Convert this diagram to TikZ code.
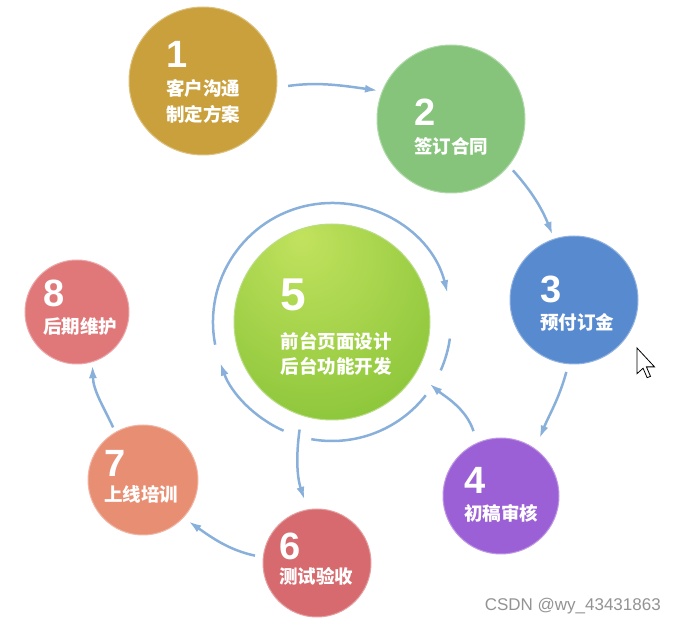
\documentclass[tikz,border=0pt]{standalone}
\usepackage{fontspec}
\newfontfamily\cjkfont{Noto Sans CJK SC}
\newfontfamily\numfont{Liberation Sans}
\usetikzlibrary{arrows.meta}

\definecolor{goldc}{HTML}{C9A03C}
\definecolor{greenc}{HTML}{86C47C}
\definecolor{bluec}{HTML}{588AD0}
\definecolor{purplec}{HTML}{9C60D6}
\definecolor{redc}{HTML}{D66A6E}
\definecolor{orangec}{HTML}{E88F73}
\definecolor{pinkc}{HTML}{E0787A}
\definecolor{flowc}{HTML}{88B0DA}
\definecolor{limehi}{HTML}{C2E25E}
\definecolor{limemid}{HTML}{8CC63A}
\definecolor{limelo}{HTML}{62A020}

\pgfdeclareradialshading{limeball}{\pgfpoint{-8bp}{22bp}}{color(0bp)=(limehi); color(38bp)=(limemid); color(72bp)=(limelo)}

\newcommand\stepnum[2][38]{{\numfont\bfseries\fontsize{#1}{#1}\selectfont #2}}

\tikzset{
	stagecircle/.style={circle, inner sep=0pt, fill=#1, draw=#1!65!white, line width=1pt},
	stagetext/.style={align=left, text=white, inner sep=0pt, font=\cjkfont\bfseries\fontsize{18.5}{26}\selectfont},
	flowline/.style={draw=flowc, line width=2.5pt},
	flow/.style={flowline, -{Latex[length=13pt,width=8pt]}}
}

\begin{document}
\begin{tikzpicture}[x=1pt,y=1pt]
		\useasboundingbox (0,0) rectangle (673,627);
		% stages
		\foreach \n/\x/\y/\r/\col in {1/203/546/74/goldc, 2/451/508/74/greenc, 3/574/327/64/bluec,
			4/501/131/58/purplec, 6/317/64/54/redc, 7/143/147/55/orangec, 8/77/315/52/pinkc}
			\node[stagecircle=\col, minimum size=2*\r] (c\n) at (\x,\y) {};
		\node[circle, inner sep=0pt, minimum size=196, shading=limeball, draw=limemid!60!white, line width=1pt] (c5) at (332,305) {};
		% labels
		\foreach \n/\x/\y/\gap/\txt in {1/203/545/2pt/{客户沟通\\制定方案}, 2/451/500/2pt/{签订合同},
			3/577/323/1pt/{预付订金}, 4/501/132/1pt/{初稿审核}, 6/316/68/-2pt/{测试验收},
			7/141/150/-1pt/{上线培训}, 8/80/319/1pt/{后期维护}}
			\node[stagetext] (t\n) at (\x,\y) {\stepnum{\n}\\[\gap]\txt};
		\node[stagetext, font=\cjkfont\bfseries\fontsize{18.5}{25}\selectfont] (t5) at (336,300) {\stepnum[46]{5}\\[13pt]前台页面设计\\后台功能开发};
		% ring round stage 5
		\draw[flow] (c5.center) ++(191:119) arc[start angle=191, end angle=14, radius=119];
		\draw[flowline] (c5.center) ++(-8:119) arc[start angle=-8, end angle=-24, radius=119];
		\draw[flowline] (c5.center) ++(-38:119) arc[start angle=-38, end angle=-100, radius=119];
		\draw[flow] (c5.center) ++(246:119) arc[start angle=246, end angle=200, radius=119];
		% flow between stages
		\draw[flow, shorten <=11pt, shorten >=4pt] (c1.-5) to[out=8, in=172] (c2.158);
		\draw[flow, shorten <=6pt, shorten >=4pt] (c2.-39) to[out=-48, in=112] (c3.108);
		\draw[flow, shorten <=8pt, shorten >=11pt] (c3.-95) to[out=-105, in=68] (c4.54);
		\draw[flow, shorten <=12pt, shorten >=17pt] (c4.114) to[out=108, in=-40] (c5.-31.5);
		\draw[flow, shorten <=14pt, shorten >=10pt] (c5.-108) to[out=-98, in=108] (c6.100);
		\draw[flow, shorten <=8pt, shorten >=6pt] (c6.174) to[out=168, in=-35] (c7.-43);
		\draw[flow, shorten <=5pt, shorten >=3pt] (c7.120) to[out=115, in=-88] (c8.-73);
		% mouse pointer
		\draw[fill=white, line width=0.8pt, scale=1.35] (637/1.35,279/1.35) -- ++(0,-19) -- ++(4.5,4) -- ++(3,-7) -- ++(2.5,1) -- ++(-3,7) -- ++(6,0) -- cycle;
		\node[font=\numfont\fontsize{17}{17}\selectfont, text=gray!85, anchor=east, inner sep=0pt] (mark) at (661,21) {CSDN @wy\_43431863};
	\end{tikzpicture}
\end{document}
